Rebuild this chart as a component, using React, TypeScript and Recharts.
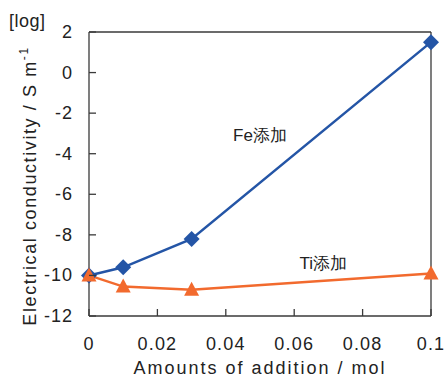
import React from "react";
import { LineChart, Line, XAxis, YAxis, ReferenceLine, ReferenceDot } from "recharts";

const xValues = [0, 0.01, 0.03, 0.1];
const feValues = [-10, -9.6, -8.2, 1.5];
const tiValues = [-10, -10.55, -10.7, -9.9];
const xTicks = [0, 0.02, 0.04, 0.06, 0.08, 0.1];
const yTicks = [-12, -10, -8, -6, -4, -2, 0, 2];

const data = xValues.map((x, i) => ({ x, fe: feValues[i], ti: tiValues[i] }));

const BLUE = "#2455a6";
const ORANGE = "#f26a2e";
const AXIS = "#3a3a3a";
const FONT = "'Liberation Sans', Arial, sans-serif";

const Diamond = (props: any) => {
  const { cx, cy } = props;
  const r = 8;
  return <path d={`M${cx},${cy - r}L${cx + r},${cy}L${cx},${cy + r}L${cx - r},${cy}Z`} fill={BLUE} />;
};

const Triangle = (props: any) => {
  const { cx, cy } = props;
  return <path d={`M${cx},${cy - 8}L${cx + 7.5},${cy + 6}L${cx - 7.5},${cy + 6}Z`} fill={ORANGE} />;
};

const XTick = (props: any) => {
  const { x, y, payload } = props;
  return (
    <g>
      <line x1={x} y1={y} x2={x} y2={y - 7} stroke={AXIS} strokeWidth={1.3} />
      <text x={x} y={y + 34} textAnchor="middle" fontSize={18} letterSpacing={1.2} fill="#222" fontFamily={FONT}>
        {String(payload.value)}
      </text>
    </g>
  );
};

const YTick = (props: any) => {
  const { x, y, payload } = props;
  return (
    <g>
      <line x1={x} y1={y} x2={x + 7} y2={y} stroke={AXIS} strokeWidth={1.3} />
      <text x={x - 16} y={y + 6} textAnchor="end" fontSize={18} letterSpacing={1} fill="#222" fontFamily={FONT}>
        {String(payload.value)}
      </text>
    </g>
  );
};

const YLabel = () => (
  <g fontFamily={FONT} fill="#222">
    <text x={9} y={27} fontSize={18} letterSpacing={0.5}>[log]</text>
    <text transform="translate(36, 186) rotate(-90)" textAnchor="middle" fontSize={18} letterSpacing={1.6}>
      Electrical conductivity / S m<tspan dy={-8} fontSize={12}>-1</tspan>
    </text>
  </g>
);

export default function App() {
  return (
    <div style={{ width: 445, height: 378, background: "#fff" }}>
      <style>{`body{margin:0}`}</style>
      <LineChart width={445} height={378} data={data} margin={{ top: 32, right: 14, bottom: 0, left: 0 }}>
        <XAxis
          dataKey="x"
          type="number"
          domain={[0, 0.1]}
          ticks={xTicks}
          tickSize={0}
          tickMargin={0}
          tick={<XTick />}
          height={62}
          stroke={AXIS}
          strokeWidth={1.3}
          label={{ value: "Amounts of addition / mol", position: "insideBottom", offset: 4, fontSize: 18, letterSpacing: 2, fill: "#222", fontFamily: FONT }}
        />
        <YAxis
          type="number"
          domain={[-12, 2]}
          ticks={yTicks}
          tickSize={0}
          tickMargin={0}
          tick={<YTick />}
          width={89}
          stroke={AXIS}
          strokeWidth={1.3}
          label={{ content: YLabel }}
        />
        <ReferenceLine y={2} stroke={AXIS} strokeWidth={1.3} />
        <ReferenceLine x={0.1} stroke={AXIS} strokeWidth={1.3} />
        <Line dataKey="fe" stroke={BLUE} strokeWidth={2.5} dot={<Diamond />} isAnimationActive={false} />
        <Line dataKey="ti" stroke={ORANGE} strokeWidth={2.5} dot={<Triangle />} isAnimationActive={false} />
        <ReferenceDot
          x={0.05}
          y={-3.1}
          r={0}
          fill="none"
          stroke="none"
          label={{ value: "Fe添加", position: "center", fontSize: 17, fill: "#222", fontFamily: FONT }}
        />
        <ReferenceDot
          x={0.0685}
          y={-9.4}
          r={0}
          fill="none"
          stroke="none"
          label={{ value: "Ti添加", position: "center", fontSize: 17, fill: "#222", fontFamily: FONT }}
        />
      </LineChart>
    </div>
  );
}
